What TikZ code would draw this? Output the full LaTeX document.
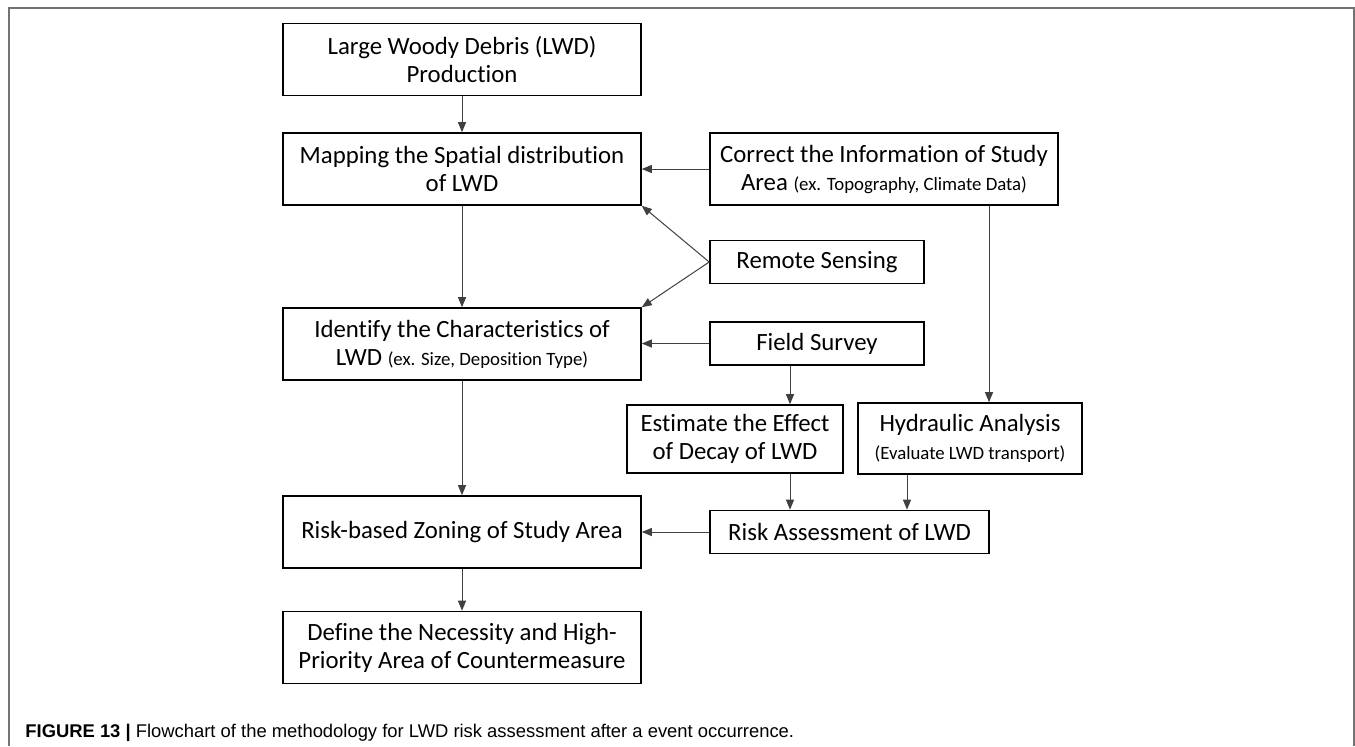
\documentclass[tikz,border=0pt]{standalone}
\usepackage{fontspec}
\setmainfont{Carlito}[Ligatures=NoCommon]
\newfontfamily\capfont{Liberation Sans}
\usetikzlibrary{arrows.meta}

\tikzset{
  box/.style={draw, line width=0.8pt, align=center, inner sep=0pt,
    font=\fontsize{12.4}{14}\selectfont},
  flow/.style={-{Triangle[length=5pt,width=4pt]}, line width=0.5pt, draw=black!75},
}
\newcommand{\exnote}[1]{{\fontsize{9.4}{11}\selectfont #1}}

\begin{document}
\begin{tikzpicture}[x=0.5pt, y=-0.5pt]
  \useasboundingbox (0,0) rectangle (1355,746);

  % Open frame round the figure
  \draw[black!55, line width=0.8pt] (9,746) -- (9,8) -- (1354,8) -- (1354,746);

  % Main column
  \node[box, minimum width=179pt, minimum height=36pt] (lwd) at (462,59.5)
    {Large Woody Debris (LWD)\\Production};
  \node[box, minimum width=179pt, minimum height=36pt] (mapping) at (462,169)
    {Mapping the Spatial distribution\\of LWD};
  \node[box, minimum width=179pt, minimum height=36pt] (identify) at (462,344)
    {Identify the Characteristics of\\LWD \exnote{(ex. Size, Deposition Type)}};
  \node[box, minimum width=179pt, minimum height=36pt] (zoning) at (462,532)
    {Risk-based Zoning of Study Area};
  \node[box, minimum width=179pt, minimum height=36pt] (define) at (462,647.5)
    {Define the Necessity and High-\\Priority Area of Countermeasure};

  % Side column
  \node[box, minimum width=174pt, minimum height=36pt] (correct) at (884,169)
    {Correct the Information of Study\\Area \exnote{(ex. Topography, Climate Data)}};
  \node[box, minimum width=107pt, minimum height=21.5pt] (remote) at (817,262)
    {Remote Sensing};
  \node[box, minimum width=107pt, minimum height=21.5pt] (field) at (817,343.5)
    {Field Survey};
  \node[box, minimum width=108pt, minimum height=34pt] (decay) at (735,439)
    {Estimate the Effect\\of Decay of LWD};
  \node[box, minimum width=112pt, minimum height=35.5pt] (hydraulic) at (970,438.5)
    {Hydraulic Analysis\\\exnote{(Evaluate LWD transport)}};
  \node[box, minimum width=139.5pt, minimum height=21.5pt] (assess) at (849.5,532)
    {Risk Assessment of LWD};

  % Columns of the vertical connectors
  \coordinate (fx) at (790,0);
  \coordinate (cx) at (989,0);
  \coordinate (hx) at (907,0);

  % Connectors
  \draw[flow] (lwd) -- (mapping);
  \draw[flow] (mapping) -- (identify);
  \draw[flow] (identify) -- (zoning);
  \draw[flow] (zoning) -- (define);
  \draw[flow] (correct) -- (mapping);
  \draw[flow] (remote.west) -- (mapping.south east);
  \draw[flow] (remote.west) -- (identify.north east);
  \draw[flow] (field.west) -- (identify.east |- field.west);
  \draw[flow] (fx |- field.south) -- (fx |- decay.north);
  \draw[flow] (cx |- correct.south) -- (cx |- hydraulic.north);
  \draw[flow] (fx |- decay.south) -- (fx |- assess.north);
  \draw[flow] (hx |- hydraulic.south) -- (hx |- assess.north);
  \draw[flow] (assess) -- (zoning);

  % Caption
  \node[anchor=base west, inner sep=0pt, font=\capfont\fontsize{9.2}{11}\selectfont] (caption) at (25,737)
    {\textbf{FIGURE 13 |} Flowchart of the methodology for LWD risk assessment after a event occurrence.};
\end{tikzpicture}
\end{document}
